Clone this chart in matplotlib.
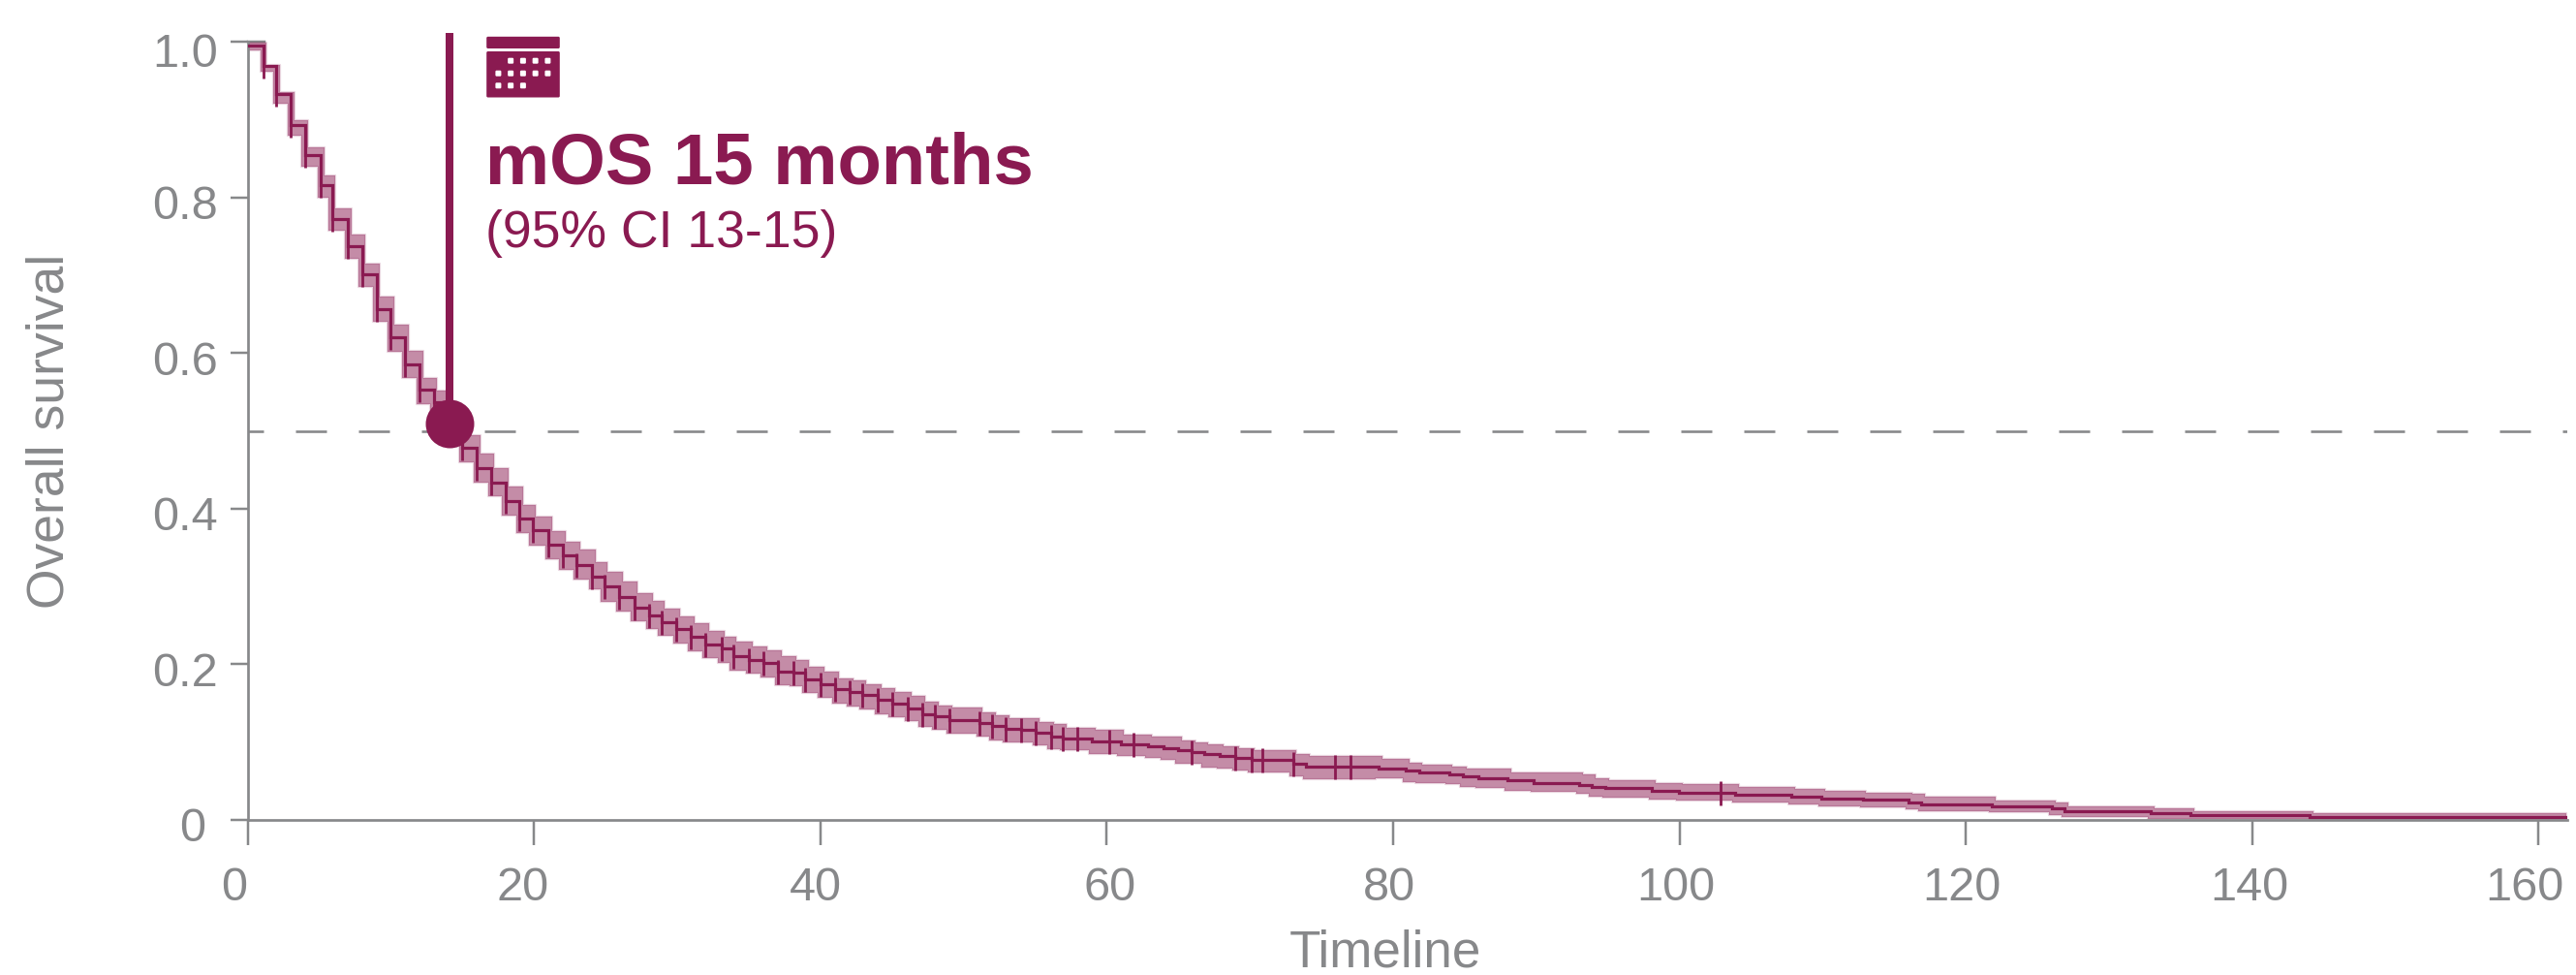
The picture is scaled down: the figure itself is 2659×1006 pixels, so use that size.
import numpy as np
import matplotlib
matplotlib.use("Agg")
import matplotlib.pyplot as plt
from matplotlib.patches import FancyBboxPatch
from matplotlib.transforms import ScaledTranslation

plt.rcParams['font.family'] = ['Liberation Sans', 'DejaVu Sans']

# ---- data -----------------------------------------------------------------
times = [0, 1.1, 2.0, 3.0, 4.0, 5.1, 5.9, 7.0, 8.0, 9.0, 10.0, 11.0, 12.0, 13.0, 14.0,
         15.0, 16.0, 17.0, 18.0, 19.0, 19.9, 21.0, 22.0, 23.0, 24.05, 24.9, 25.95, 27.0,
         28.05, 28.9, 29.95, 30.95, 32.0, 33.1, 33.9, 35.0, 36.05, 37.05, 38.1, 38.95,
         40.05, 41.05, 42.07, 42.95, 44.0, 45.0, 46.1, 47.1, 48.0, 49.0, 51.1, 52.0,
         52.97, 54.05, 55.06, 56.1, 56.96, 58.95, 60.97, 62.9, 64.0, 65.0, 65.96, 66.8,
         67.9, 69.0, 70.1, 73.0, 73.94, 79.0, 80.9, 81.8, 83.9, 84.9, 85.96, 88.0, 89.8,
         93.0, 93.86, 94.85, 98.07, 99.95, 103.9, 107.8, 109.9, 112.8, 116.0, 116.9,
         121.8, 126.0, 126.9, 132.9, 135.7, 144.0]
survival = [0.995, 0.969, 0.933, 0.893, 0.855, 0.816, 0.772, 0.738, 0.702, 0.656, 0.621,
            0.585, 0.553, 0.537, 0.508, 0.478, 0.452, 0.434, 0.410, 0.388, 0.372, 0.354,
            0.340, 0.328, 0.313, 0.300, 0.286, 0.273, 0.263, 0.254, 0.245, 0.235, 0.226,
            0.220, 0.211, 0.206, 0.2015, 0.191, 0.189, 0.1806, 0.175, 0.168, 0.165, 0.161,
            0.155, 0.149, 0.1437, 0.136, 0.133, 0.128, 0.124, 0.1205, 0.1175, 0.1155, 0.112,
            0.107, 0.105, 0.101, 0.0976, 0.0947, 0.0926, 0.0897, 0.0872, 0.085, 0.0822,
            0.0794, 0.0769, 0.0719, 0.0689, 0.0664, 0.0636, 0.0607, 0.0586, 0.0557, 0.0532,
            0.0507, 0.0477, 0.0449, 0.0427, 0.0407, 0.0378, 0.0349, 0.0328, 0.0303, 0.0278,
            0.0258, 0.0224, 0.020, 0.0171, 0.0146, 0.0116, 0.0087, 0.0062, 0.0034]
ci_above = [0.004, 0.002, 0.003, 0.007, 0.010, 0.012, 0.014, 0.014, 0.013, 0.017, 0.016,
            0.018, 0.015, 0.015, 0.018, 0.0166, 0.0187, 0.018, 0.0187, 0.017, 0.0175, 0.0175,
            0.018, 0.0195, 0.0187, 0.019, 0.020, 0.0187, 0.018, 0.017, 0.017, 0.018, 0.017,
            0.016, 0.018, 0.017, 0.016, 0.019, 0.017, 0.0158, 0.015, 0.0145, 0.015, 0.014,
            0.0145, 0.016, 0.016, 0.016, 0.014, 0.0166, 0.0145, 0.014, 0.013, 0.015, 0.014,
            0.016, 0.0133, 0.0145, 0.0125, 0.0125, 0.0145, 0.012, 0.0125, 0.0116, 0.0125,
            0.0133, 0.013, 0.0125, 0.0133, 0.0125, 0.0104, 0.010, 0.0104, 0.0108, 0.0133,
            0.010, 0.0129, 0.0133, 0.0112, 0.0104, 0.010, 0.0108, 0.010, 0.0096, 0.010,
            0.0092, 0.0108, 0.0104, 0.0083, 0.0075, 0.0054, 0.0058, 0.0054, 0.005]
ci_below = [0.006, 0.007, 0.012, 0.014, 0.015, 0.016, 0.014, 0.017, 0.017, 0.016, 0.0195,
            0.0175, 0.019, 0.018, 0.018, 0.0187, 0.019, 0.018, 0.0187, 0.0195, 0.020, 0.0187,
            0.018, 0.0187, 0.0165, 0.020, 0.018, 0.018, 0.017, 0.0175, 0.018, 0.018, 0.018,
            0.018, 0.019, 0.018, 0.018, 0.018, 0.017, 0.018, 0.018, 0.018, 0.019, 0.019,
            0.0187, 0.0175, 0.017, 0.0166, 0.0166, 0.0175, 0.0166, 0.018, 0.018, 0.016, 0.0166,
            0.016, 0.0154, 0.0166, 0.016, 0.0154, 0.0158, 0.018, 0.0154, 0.0175, 0.016, 0.016,
            0.0154, 0.016, 0.016, 0.0133, 0.0145, 0.0137, 0.0125, 0.0129, 0.0125, 0.0129, 0.012,
            0.0116, 0.0125, 0.0125, 0.0116, 0.0096, 0.0108, 0.0104, 0.0108, 0.010, 0.0087,
            0.0083, 0.0075, 0.0079, 0.0075, 0.0075, 0.005, 0.0021]
censor_times = [1.1, 2.0, 3.0, 4.0, 5.1, 5.9, 7.0, 8.0, 9.0, 10.0, 11.0, 12.0, 13.0, 14.0,
                15.0, 16.0, 17.0, 18.0, 19.0, 19.9, 21.0, 22.0, 23.0, 24.05, 24.9, 25.95, 27.0,
                28.05, 28.9, 29.95, 30.95, 32.0, 33.1, 33.9, 35.0, 36.05, 37.05, 38.1, 38.95,
                40.05, 41.05, 42.07, 42.95, 44.0, 45.0, 46.1, 47.1, 48.0, 49.0, 51.1, 52.0,
                52.97, 54.05, 55.06, 56.1, 56.96, 57.95, 60.16, 61.9, 65.96, 69.0, 70.1, 70.9,
                73.0, 75.95, 77.03, 102.9]
end_time = 161.9
median_time = 14.1
median_surv = 0.51
stem_top = 1.012
x_ticks = [0, 20, 40, 60, 80, 100, 120, 140, 160]
y_ticks = [0, 0.2, 0.4, 0.6, 0.8, 1.0]
y_tick_labels = ['0', '0.2', '0.4', '0.6', '0.8', '1.0']

# ---- style ----------------------------------------------------------------
W, H = 2659, 1006
DPI = 100
MAIN = '#8A1A51'
GREY = '#87888A'
px = 72 / DPI
CI_LAG = 0.25
CI_LEAD = 0.22


def fx(p):
    return p / W


def fy(p):
    return 1 - p / H


fig = plt.figure(figsize=(W / DPI, H / DPI), dpi=DPI, facecolor='white')
ax = fig.add_axes([fx(255.5), fy(846), (2650 - 255.5) / W, (846 - 43.3) / H])
ax.set_xlim(0, 162)
ax.set_ylim(0, 1)

t = np.array(times, float)
s = np.array(survival, float)
upper = s + np.array(ci_above)
lower = s - np.array(ci_below)
t_up = np.r_[0, t[1:] + CI_LAG]
t_lo = np.r_[0, t[1:] - CI_LEAD]
grid = np.unique(np.r_[t_up, t_lo, end_time])
up_y = upper[np.searchsorted(t_up, grid, side='right') - 1]
lo_y = lower[np.searchsorted(t_lo, grid, side='right') - 1]
ax.fill_between(grid, lo_y, up_y, step='post', color=MAIN, alpha=0.18, lw=2.2 * px, zorder=1.9)
ax.fill_between(grid, lo_y, up_y, step='post', facecolor=MAIN, alpha=0.39, lw=0, zorder=2)

ax.plot(np.r_[t, end_time], np.r_[s, s[-1]], drawstyle='steps-post', color=MAIN,
        lw=3.2 * px, zorder=3, solid_joinstyle='miter')
cens = np.array(censor_times)
ax.plot(cens, s[np.searchsorted(t, cens, side='right') - 1], ls='none', marker='|',
        ms=25 * px, mew=2.8 * px, color=MAIN, zorder=3)

ax.plot([0, 1.2], [1, 1], color=GREY, lw=2.5 * px, zorder=1, clip_on=False)
ax.axhline(0.5, color=GREY, lw=2.6 * px, ls=(6.15, (12.3, 12.7)), zorder=2.5)
ax.plot([median_time, median_time], [median_surv, stem_top], color=MAIN, lw=8 * px,
        clip_on=False, zorder=4, solid_capstyle='butt')
ax.plot([median_time], [median_surv], 'o', color=MAIN, ms=50 * px, mew=0, zorder=5,
        clip_on=False)

for side in ('top', 'right'):
    ax.spines[side].set_visible(False)
for side in ('left', 'bottom'):
    ax.spines[side].set_color(GREY)
    ax.spines[side].set_linewidth(2.7 * px)
ax.set_xticks(x_ticks)
ax.set_yticks(y_ticks)
ax.set_yticklabels(y_tick_labels)
ax.tick_params(axis='x', length=26 * px, width=2.5 * px, color=GREY, labelcolor=GREY,
               labelsize=35, pad=22 * px)
ax.tick_params(axis='y', length=18.5 * px, width=2.5 * px, color=GREY, labelcolor=GREY,
               labelsize=35, pad=25 * px)
x_label_shift = {0: -14, 20: -12, 40: -5, 60: 3, 80: -4, 100: -4, 120: -4, 140: -3, 160: -15}
for val, lab in zip(x_ticks, ax.get_xticklabels()):
    lab.set_transform(lab.get_transform() +
                      ScaledTranslation(x_label_shift[val] / DPI, 0, fig.dpi_scale_trans))
y_label_shift = {'0': (0, -4), '0.2': (13, -5), '0.4': (13, -5), '0.6': (13, -5),
                 '0.8': (13, -5), '1.0': (13, -8)}
for text, lab in zip(y_tick_labels, ax.get_yticklabels()):
    dx, dy = y_label_shift[text]
    lab.set_transform(lab.get_transform() +
                      ScaledTranslation(dx / DPI, dy / DPI, fig.dpi_scale_trans))

fig.text(fx(1430), fy(983), 'Timeline', color=GREY, fontsize=38.2, ha='center', va='center')
fig.text(fx(52), fy(445), 'Overall survival', color=GREY, fontsize=38.5, rotation=90,
         ha='center', va='center')
fig.text(fx(501), fy(190), 'mOS 15 months', color=MAIN, fontsize=53.6, fontweight='bold',
         ha='left', va='baseline')
fig.text(fx(501), fy(255), '(95% CI 13-15)', color=MAIN, fontsize=38.5, ha='left', va='baseline')

# calendar icon, in its own small axes (pixel units of the icon)
icon = fig.add_axes([fx(501.7), fy(101), 76.6 / W, 63.7 / H])
icon.set_xlim(0, 76.6)
icon.set_ylim(63.7, 0)
icon.axis('off')
icon.add_patch(FancyBboxPatch((0.5, 0.5), 75.6, 12.2, boxstyle='round,pad=0,rounding_size=1.5',
                              fc=MAIN, ec='none'))
icon.add_patch(FancyBboxPatch((0.5, 15.7), 75.6, 47.5, boxstyle='round,pad=0,rounding_size=1.5',
                              fc=MAIN, ec='none'))
for row, cols in zip((25.4, 38.4, 51), ((3, 4, 5, 6), (2, 3, 4, 5, 6), (2, 3, 4))):
    for c in cols:
        cx = 12.75 * (c - 2) + 12.7
        icon.add_patch(FancyBboxPatch((cx - 3, row - 3), 6, 6,
                                      boxstyle='round,pad=0,rounding_size=1.2',
                                      fc='white', ec='none'))

fig.savefig('out.png', dpi=DPI, facecolor='white')
